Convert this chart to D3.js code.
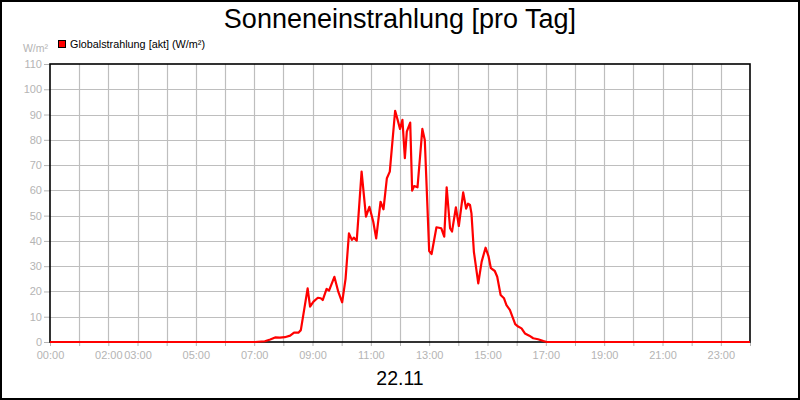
<!DOCTYPE html>
<html>
<head>
<meta charset="utf-8">
<script src="https://cdn.jsdelivr.net/npm/d3@7"></script>
<style>
  html, body { margin: 0; padding: 0; background: #fff; }
  svg { display: block; font-family: "Liberation Sans", Arial, sans-serif; }
</style>
</head>
<body>
<div id="chart"></div>
<script>
// Sonneneinstrahlung, one reading set for 22.11
const times = [
    "00:00", "07:02", "07:22", "07:33", "07:43", "07:53", "08:03", "08:14", "08:22", "08:31",
    "08:36", "08:50", "08:55", "09:02", "09:11", "09:17", "09:21", "09:29", "09:34", "09:45",
    "09:53", "10:01", "10:08", "10:15", "10:21", "10:25", "10:31", "10:41", "10:50", "10:57",
    "11:05", "11:11", "11:20", "11:26", "11:33", "11:39", "11:50", "11:55", "12:00", "12:05",
    "12:10", "12:14", "12:21", "12:25", "12:29", "12:36", "12:46", "12:51", "13:00", "13:05",
    "13:15", "13:25", "13:31", "13:36", "13:43", "13:47", "13:55", "14:01", "14:10", "14:16",
    "14:20", "14:24", "14:27", "14:32", "14:41", "14:48", "14:56", "15:02", "15:07", "15:15",
    "15:20", "15:27", "15:34", "15:39", "15:46", "15:57", "16:03", "16:10", "16:17", "16:26",
    "16:34", "16:44", "16:55", "17:02", "24:00"
];
const globalstrahlung = [
    0, 0, 0.3, 1.0, 1.8, 1.7, 1.9, 2.5, 3.7, 3.7,
    4.7, 21.2, 14.0, 16.0, 17.5, 17.3, 16.6, 21.0, 20.3, 25.8,
    19.9, 15.7, 25.0, 43.0, 40.4, 41.3, 40.1, 67.4, 49.6, 53.5,
    47.6, 41.0, 55.5, 52.5, 64.8, 67.4, 91.5, 88.0, 84.3, 87.9,
    72.7, 83.2, 86.8, 59.9, 61.7, 61.2, 84.3, 79.9, 36.0, 34.8,
    45.4, 45.0, 41.7, 61.2, 45.0, 43.7, 53.3, 45.9, 59.2, 52.8,
    54.7, 54.2, 50.9, 35.7, 23.2, 31.8, 37.3, 34.0, 29.2, 28.1,
    25.8, 18.6, 17.3, 14.6, 12.7, 7.1, 6.1, 5.4, 3.4, 2.5,
    1.5, 1.1, 0.4, 0, 0
];
const yTicks = [0, 10, 20, 30, 40, 50, 60, 70, 80, 90, 100, 110];
const xLabelHours = [0, 2, 3, 5, 7, 9, 11, 13, 15, 17, 19, 21, 23];

const title = "Sonneneinstrahlung [pro Tag]";
const dateLabel = "22.11";
const unitLabel = "W/m²";
const seriesName = "Globalstrahlung [akt] (W/m²)";

const W = 800, H = 400;
const plot = { left: 50, right: 750, top: 64, bottom: 342 };

const toMinutes = s => {
    const [h, m] = s.split(":").map(Number);
    return h * 60 + m;
};
const data = times.map((t, i) => ({ t: toMinutes(t), v: globalstrahlung[i] }));

const svg = d3.select("#chart").append("svg")
    .attr("width", W)
    .attr("height", H);

svg.append("rect")
    .attr("x", 0).attr("y", 0)
    .attr("width", W).attr("height", H)
    .attr("fill", "#fff");

const x = d3.scaleLinear().domain([0, 1440]).range([plot.left, plot.right]);
const y = d3.scaleLinear().domain([0, 110]).range([plot.bottom, plot.top]);

const hours = d3.range(0, 25);
const gridColor = "#bebebe";
const labelColor = "#b4b4b4";

// grid
svg.append("g")
    .selectAll("line")
    .data(hours.slice(1, -1))
    .join("line")
    .attr("x1", d => Math.round(x(d * 60)) + 0.5)
    .attr("x2", d => Math.round(x(d * 60)) + 0.5)
    .attr("y1", plot.top)
    .attr("y2", plot.bottom)
    .attr("stroke", gridColor)
    .attr("stroke-width", 1.2);

svg.append("g")
    .selectAll("line")
    .data(yTicks.slice(1, -1))
    .join("line")
    .attr("x1", plot.left)
    .attr("x2", plot.right)
    .attr("y1", d => Math.round(y(d)) + 0.5)
    .attr("y2", d => Math.round(y(d)) + 0.5)
    .attr("stroke", gridColor)
    .attr("stroke-width", 1.2);

// y axis
const yAxis = svg.append("g")
    .attr("transform", `translate(${plot.left},0)`)
    .call(d3.axisLeft(y).tickValues(yTicks).tickSize(6).tickPadding(2));
yAxis.select(".domain").remove();
yAxis.selectAll(".tick line").attr("stroke", labelColor);
yAxis.selectAll(".tick text")
    .attr("fill", labelColor)
    .style("font-size", "11px")
    .style("font-family", "'Liberation Sans', Arial, sans-serif");

// x axis
const xAxis = svg.append("g")
    .attr("transform", `translate(0,${plot.bottom})`)
    .call(d3.axisBottom(x)
        .tickValues(hours.map(h => h * 60))
        .tickSize(4)
        .tickPadding(5)
        .tickFormat(d => xLabelHours.includes(d / 60) ? d3.format("02d")(d / 60) + ":00" : ""));
xAxis.select(".domain").remove();
xAxis.selectAll(".tick line").attr("stroke", labelColor);
xAxis.selectAll(".tick text")
    .attr("fill", labelColor)
    .style("font-size", "11px")
    .style("font-family", "'Liberation Sans', Arial, sans-serif");

// plot frame
svg.append("rect")
    .attr("x", plot.left).attr("y", plot.top)
    .attr("width", plot.right - plot.left)
    .attr("height", plot.bottom - plot.top)
    .attr("fill", "none")
    .attr("stroke", "#000")
    .attr("stroke-width", 1.6);

// series
const line = d3.line()
    .x(d => x(d.t))
    .y(d => y(d.v));

svg.append("path")
    .datum(data)
    .attr("d", line)
    .attr("fill", "none")
    .attr("stroke", "#ff0000")
    .attr("stroke-width", 2.2)
    .attr("stroke-linejoin", "round");

// texts
svg.append("text")
    .attr("x", W / 2).attr("y", 28)
    .attr("text-anchor", "middle")
    .style("font-size", "27px")
    .text(title);

svg.append("text")
    .attr("x", W / 2).attr("y", 385)
    .attr("text-anchor", "middle")
    .style("font-size", "19.5px")
    .text(dateLabel);

svg.append("text")
    .attr("x", 48).attr("y", 52)
    .attr("text-anchor", "end")
    .attr("fill", labelColor)
    .style("font-size", "10.5px")
    .text(unitLabel);

// legend
svg.append("rect")
    .attr("x", 58.5).attr("y", 40.5)
    .attr("width", 7).attr("height", 7)
    .attr("fill", "#ff0000")
    .attr("stroke", "#000")
    .attr("stroke-width", 1);

svg.append("text")
    .attr("x", 70).attr("y", 48)
    .style("font-size", "10.8px")
    .text(seriesName);

// outer border
svg.append("rect")
    .attr("x", 1).attr("y", 1)
    .attr("width", W - 2).attr("height", H - 2)
    .attr("fill", "none")
    .attr("stroke", "#000")
    .attr("stroke-width", 2);
</script>
</body>
</html>
